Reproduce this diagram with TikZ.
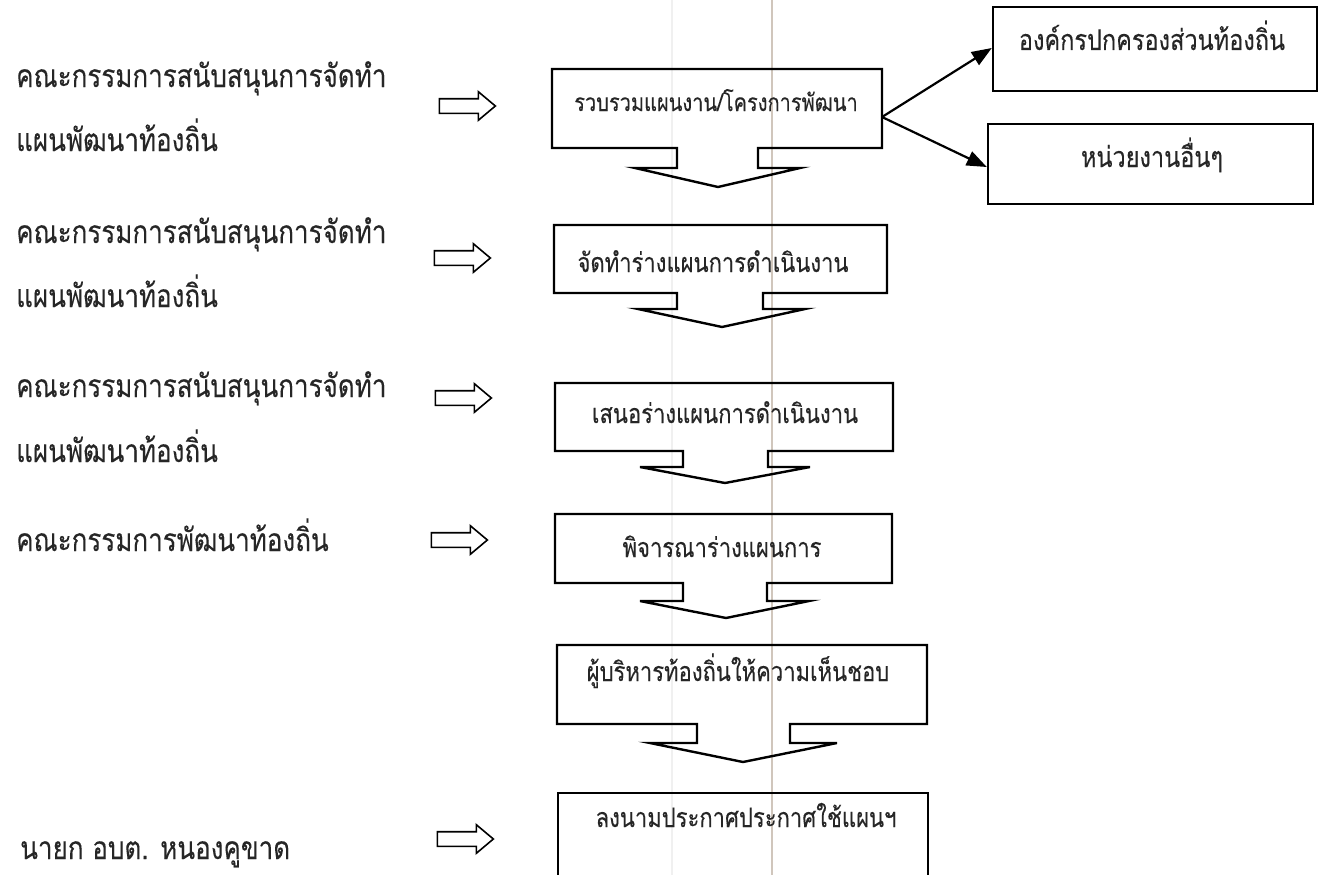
\documentclass[tikz,border=0pt]{standalone}
\usepackage{graphicx}
\usepackage{fontspec}
\newfontfamily\thaifont[Script=Thai,FakeBold=0.2]{Loma}
\newcommand\vstretch[1]{\scalebox{1}[1.22]{#1}}
\usetikzlibrary{shapes.arrows,arrows.meta}
\tikzset{
  lefttxt/.style={anchor=base west, inner sep=0pt, text=black!85, font=\thaifont\fontsize{26}{32}\selectfont},
  boxtxt/.style={anchor=base, inner sep=0pt, text=black!85, font=\thaifont\fontsize{22}{28}\selectfont},
  smalltxt/.style={anchor=base, inner sep=0pt, text=black!85, font=\thaifont\fontsize{20}{26}\selectfont},
  sidetxt/.style={anchor=base, inner sep=0pt, text=black!85, font=\thaifont\fontsize{23.5}{28}\selectfont},
  flowbox/.style={draw, line width=2.4pt, line join=miter},
  sidebox/.style={draw, line width=2.4pt, rectangle, inner sep=0pt},
  blockarrow/.style={single arrow, draw, line width=1.6pt, inner xsep=0pt, inner ysep=6.5pt,
    minimum height=56pt, single arrow head extend=7pt, single arrow tip angle=80},
  fold/.style={line width=1.2pt},
  link/.style={line width=2.2pt, -{Triangle[length=20pt,width=15pt]}}
}
\begin{document}
\begin{tikzpicture}[x=1pt,y=-1pt]
\useasboundingbox (0,0) rectangle (1325,875);
\fill[white] (0,0) rectangle (1325,875);
% scan fold lines
\draw[fold, color=gray!12] (672,0) -- (672,875);
\draw[fold, color=brown!35!gray!45] (772,0) -- (772,875);

% flow boxes with down arrows
\draw[flowbox] (677,148) -- (552,148) -- (552,69) -- (882,69) -- (882,148) -- (758,148) -- (758,168) -- (800,168) -- (718,187) -- (635,168) -- (677,168) -- cycle;
\draw[flowbox] (677,293) -- (554,293) -- (554,225) -- (887,225) -- (887,293) -- (763,293) -- (763,309) -- (805,309) -- (722,327) -- (638,309) -- (677,309) -- cycle;
\draw[flowbox] (683,451) -- (555,451) -- (555,383) -- (893,383) -- (893,451) -- (768,451) -- (768,467) -- (810,467) -- (725,483) -- (640,467) -- (683,467) -- cycle;
\draw[flowbox] (683,583) -- (555,583) -- (555,514) -- (892,514) -- (892,583) -- (767,583) -- (767,601) -- (809,601) -- (726,618) -- (640,601) -- (683,601) -- cycle;
\draw[flowbox] (697,724) -- (557,724) -- (557,645) -- (927,645) -- (927,724) -- (790,724) -- (790,743) -- (837,743) -- (743,762) -- (650,743) -- (697,743) -- cycle;
\draw[flowbox] (558,880) -- (558,793) -- (928,793) -- (928,880);

\node[smalltxt] (b1) at (716,111) {\vstretch{รวบรวมแผนงาน/โครงการพัฒนา}};
\node[boxtxt] (b2) at (713,272) {\vstretch{จัดทำร่างแผนการดำเนินงาน}};
\node[boxtxt] (b3) at (725,423) {\vstretch{เสนอร่างแผนการดำเนินงาน}};
\node[boxtxt] (b4) at (722,557) {\vstretch{พิจารณาร่างแผนการ}};
\node[boxtxt] (b5) at (738,681) {\vstretch{ผู้บริหารท้องถิ่นให้ความเห็นชอบ}};
\node[boxtxt] (b6) at (746,827) {\vstretch{ลงนามประกาศประกาศใช้แผนฯ}};

\coordinate (b1e) at (882,117);

% side boxes
\node[sidebox, minimum width=324pt, minimum height=84pt] (sa) at (1155,49) {};
\node[sidebox, minimum width=325pt, minimum height=80pt] (sb) at (1150.5,164) {};
\node[sidetxt] (sat) at (1152,50) {\vstretch{องค์กรปกครองส่วนท้องถิ่น}};
\node[sidetxt] (sbt) at (1152,167) {\vstretch{หน่วยงานอื่นๆ}};
\draw[link] (b1e) -- (sa.west |- 0,48);
\draw[link] (b1e) -- (sb.west |- 0,167);

% left labels
\node[lefttxt] (l1a) at (16,87) {\vstretch{คณะกรรมการสนับสนุนการจัดทำ}};
\node[lefttxt] (l1b) at (16,151) {\vstretch{แผนพัฒนาท้องถิ่น}};
\node[lefttxt] (l2a) at (16,243) {\vstretch{คณะกรรมการสนับสนุนการจัดทำ}};
\node[lefttxt] (l2b) at (16,307) {\vstretch{แผนพัฒนาท้องถิ่น}};
\node[lefttxt] (l3a) at (16,397) {\vstretch{คณะกรรมการสนับสนุนการจัดทำ}};
\node[lefttxt] (l3b) at (16,462) {\vstretch{แผนพัฒนาท้องถิ่น}};
\node[lefttxt] (l4) at (16,551) {\vstretch{คณะกรรมการพัฒนาท้องถิ่น}};
\node[lefttxt] (l5) at (20,859) {\vstretch{นายก อบต. หนองคูขาด}};

% hollow block arrows
\node[blockarrow] (a1) at (463,106) {};
\node[blockarrow] (a2) at (458,258) {};
\node[blockarrow] (a3) at (459,398) {};
\node[blockarrow] (a4) at (455,540) {};
\node[blockarrow] (a5) at (461,839) {};
\end{tikzpicture}
\end{document}
